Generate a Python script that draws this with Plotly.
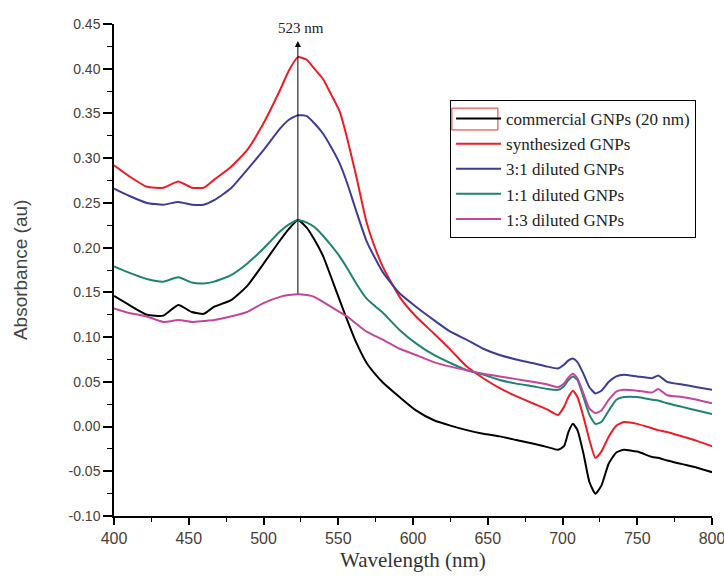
import plotly.graph_objects as go

wavelength = [400, 410, 422, 433, 443, 452, 460, 467, 478, 489, 500, 511, 517, 523, 529,
              534, 540, 545, 551, 556, 562, 569, 575, 580, 591, 602, 614, 625, 636, 647,
              658, 669, 680, 690, 697, 701, 704, 707, 710, 714, 718, 722, 726, 731, 736,
              741, 750, 760, 764, 770, 780, 790, 800]

commercial = [0.146, 0.136, 0.125, 0.124, 0.136, 0.128, 0.126, 0.134, 0.141, 0.157, 0.182, 0.208,
              0.221, 0.231, 0.222, 0.209, 0.190, 0.168, 0.141, 0.119, 0.094, 0.071, 0.058, 0.049,
              0.033, 0.018, 0.007, 0.001, -0.004, -0.008, -0.011, -0.015, -0.019, -0.023, -0.026,
              -0.022, -0.006, 0.003, -0.004, -0.030, -0.062, -0.075, -0.066, -0.041, -0.029, -0.026,
              -0.028, -0.034, -0.035, -0.038, -0.042, -0.046, -0.051]

synthesized = [0.292, 0.280, 0.268, 0.267, 0.274, 0.267, 0.267, 0.276, 0.290, 0.309, 0.339, 0.376,
               0.398, 0.413, 0.410, 0.400, 0.388, 0.372, 0.352, 0.322, 0.280, 0.228, 0.198, 0.178,
               0.145, 0.123, 0.104, 0.086, 0.067, 0.054, 0.043, 0.034, 0.026, 0.019, 0.013,
               0.022, 0.033, 0.040, 0.033, 0.011, -0.015, -0.035, -0.028, -0.011, 0.001, 0.005,
               0.003, -0.002, -0.004, -0.006, -0.011, -0.016, -0.022]

diluted_3_1 = [0.266, 0.258, 0.250, 0.248, 0.251, 0.248, 0.248, 0.253, 0.266, 0.287, 0.309, 0.333,
               0.343, 0.348, 0.347, 0.339, 0.327, 0.313, 0.294, 0.272, 0.241, 0.207, 0.187, 0.172,
               0.149, 0.134, 0.119, 0.106, 0.097, 0.087, 0.080, 0.075, 0.071, 0.067, 0.065,
               0.069, 0.074, 0.076, 0.072, 0.059, 0.044, 0.037, 0.040, 0.050, 0.056, 0.058,
               0.056, 0.054, 0.057, 0.050, 0.047, 0.044, 0.041]

diluted_1_1 = [0.179, 0.172, 0.165, 0.162, 0.167, 0.161, 0.160, 0.162, 0.169, 0.182, 0.199, 0.218,
               0.226, 0.231, 0.228, 0.223, 0.213, 0.203, 0.190, 0.177, 0.160, 0.143, 0.134, 0.127,
               0.108, 0.093, 0.080, 0.071, 0.063, 0.058, 0.052, 0.048, 0.045, 0.042, 0.041,
               0.045, 0.052, 0.056, 0.052, 0.033, 0.013, 0.003, 0.005, 0.018, 0.030, 0.033,
               0.033, 0.030, 0.029, 0.026, 0.022, 0.018, 0.014]

diluted_1_3 = [0.132, 0.127, 0.123, 0.117, 0.119, 0.117, 0.118, 0.119, 0.123, 0.128, 0.138, 0.145,
               0.147, 0.148, 0.147, 0.145, 0.139, 0.134, 0.128, 0.123, 0.115, 0.106, 0.101, 0.097,
               0.087, 0.080, 0.072, 0.067, 0.063, 0.059, 0.056, 0.053, 0.050, 0.047, 0.044,
               0.048, 0.055, 0.059, 0.054, 0.037, 0.020, 0.015, 0.018, 0.030, 0.039, 0.041,
               0.040, 0.038, 0.042, 0.035, 0.033, 0.030, 0.026]

series_names = ["commercial GNPs (20 nm)", "synthesized GNPs", "3:1 diluted GNPs",
                "1:1 diluted GNPs", "1:3 diluted GNPs"]
series_values = [commercial, synthesized, diluted_3_1, diluted_1_1, diluted_1_3]
series_colors = ["#000000", "#ee1c24", "#3d3d96", "#1d8373", "#c4449e"]

peak_wavelength = 523
arrow_base = 0.147
arrow_tip = 0.431
peak_label = "523 nm"

x_ticks = [400, 450, 500, 550, 600, 650, 700, 750, 800]
y_ticks = [-0.10, -0.05, 0.00, 0.05, 0.10, 0.15, 0.20, 0.25, 0.30, 0.35, 0.40, 0.45]
y_tick_labels = ["-0.10", "-0.05", "0.00", "0.05", "0.10", "0.15", "0.20", "0.25",
                 "0.30", "0.35", "0.40", "0.45"]
x_title = "Wavelength (nm)"
y_title = "Absorbance (au)"

fig = go.Figure()
for name, vals, col in zip(series_names, series_values, series_colors):
    fig.add_trace(go.Scatter(x=wavelength, y=vals, mode="lines", name=name,
                             line=dict(color=col, width=2, shape="spline", smoothing=0.5)))

serif = "Liberation Serif"
sans = "Liberation Sans"

fig.add_annotation(x=peak_wavelength, y=arrow_tip, ax=peak_wavelength, ay=arrow_base,
                   xref="x", yref="y", axref="x", ayref="y", text="",
                   showarrow=True, arrowhead=2, arrowsize=1.2, arrowwidth=1, arrowcolor="#000")
fig.add_annotation(x=peak_wavelength, y=0.445, xref="x", yref="y", text=peak_label,
                   showarrow=False, font=dict(family=serif, size=15, color="#222"),
                   xshift=3)

# axis titles
fig.add_annotation(x=0.5, y=-0.0894, xref="paper", yref="paper", text=x_title,
                   showarrow=False, xanchor="center", yanchor="middle",
                   font=dict(family=serif, size=21, color="#333"))
fig.add_annotation(x=-0.157, y=0.5, xref="paper", yref="paper", text=y_title,
                   showarrow=False, xanchor="center", yanchor="middle", textangle=-90,
                   font=dict(family=sans, size=19, color="#444"))

fig.add_shape(type="rect", xref="paper", yref="paper",
              x0=0.565, x1=0.642, y0=0.7846, y1=0.829,
              line=dict(color="#e03030", width=1))

fig.update_layout(
    width=724, height=579,
    margin=dict(l=114, r=12, t=24, b=63),
    paper_bgcolor="white", plot_bgcolor="white",
    font=dict(family=serif, color="#333"),
    legend=dict(x=0.562, y=0.8455, xanchor="left", yanchor="top",
                bordercolor="#000", borderwidth=1, bgcolor="rgba(0,0,0,0)",
                font=dict(family=serif, size=17, color="#222"),
                itemwidth=45, tracegroupgap=0),
    xaxis=dict(range=[400, 800], tickvals=x_ticks, showgrid=False, zeroline=False,
               automargin=False, ticklabeloverflow="allow",
               showline=True, linecolor="#000", linewidth=1.5,
               ticks="outside", ticklen=7, tickwidth=1.5, tickcolor="#000",
               tickfont=dict(family=sans, size=16, color="#4a4038"),
               minor=dict(dtick=25, ticks="outside", ticklen=4, tickcolor="#000", tickwidth=1.2)),
    yaxis=dict(range=[-0.10, 0.45], tickvals=y_ticks, ticktext=y_tick_labels, showgrid=False,
               automargin=False,
               zeroline=False, showline=True, linecolor="#000", linewidth=1.5,
               ticks="outside", ticklen=9, tickwidth=1.5, tickcolor="#000",
               tickfont=dict(family=sans, size=14, color="#4a4038"),
               minor=dict(dtick=0.025, ticks="outside", ticklen=5, tickcolor="#000", tickwidth=1.2)),
    showlegend=True,
)

fig.write_html("out.html")
